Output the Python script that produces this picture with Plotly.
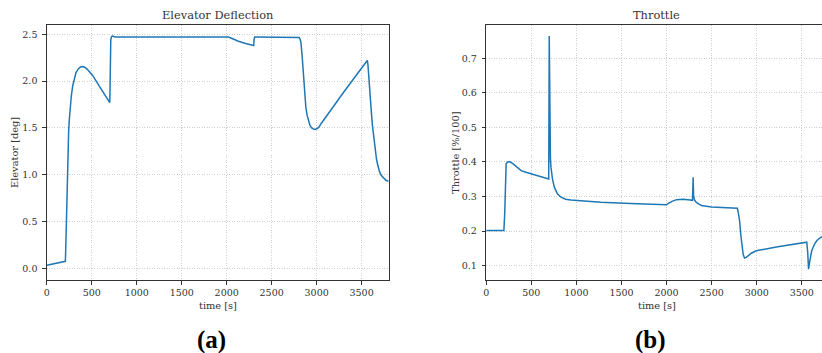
import plotly.graph_objects as go

# Elevator deflection time history
elev_t = [0, 206, 210, 215, 220, 225, 230, 236, 243, 251, 260, 272, 288, 305, 324, 350,
          375, 398, 425, 450, 509, 601, 700, 704, 711, 720, 730, 760, 1000, 1500, 2020,
          2060, 2130, 2200, 2270, 2300, 2305, 2312, 2330, 2795, 2805, 2815, 2824, 2838,
          2850, 2860, 2868, 2880, 2895, 2910, 2925, 2945, 2970, 2990, 3010, 3030, 3053,
          3300, 3558, 3563, 3570, 3580, 3592, 3606, 3620, 3635, 3650, 3665, 3680, 3700,
          3720, 3745, 3770, 3800]
elev_deg = [0.032, 0.075, 0.20, 0.45, 0.72, 0.95, 1.15, 1.33, 1.48, 1.60, 1.72, 1.84, 1.95,
            2.03, 2.09, 2.13, 2.15, 2.155, 2.145, 2.125, 2.06, 1.92, 1.77, 2.00, 2.44,
            2.475, 2.48, 2.47, 2.47, 2.47, 2.47, 2.455, 2.425, 2.405, 2.387, 2.38, 2.45,
            2.47, 2.47, 2.47, 2.465, 2.45, 2.42, 2.28, 2.12, 1.97, 1.85, 1.72, 1.63, 1.57,
            1.53, 1.50, 1.485, 1.485, 1.495, 1.515, 1.55, 1.88, 2.22, 2.22, 2.18, 2.07,
            1.88, 1.70, 1.53, 1.39, 1.27, 1.17, 1.10, 1.03, 0.99, 0.96, 0.94, 0.93]

# Throttle time history
thr_t = [0, 196, 205, 213, 221, 240, 258, 295, 340, 387, 440, 497, 600, 693, 699, 702,
         706, 712, 718, 735, 755, 790, 829, 880, 939, 1271, 1600, 2000, 2020, 2060, 2111,
         2180, 2262, 2288, 2295, 2300, 2310, 2330, 2360, 2387, 2497, 2785, 2795, 2810,
         2825, 2837, 2850, 2865, 2884, 2940, 2995, 3234, 3547, 3555, 3565, 3575, 3590,
         3610, 3640, 3665, 3700, 3724]
thr_val = [0.202, 0.202, 0.25, 0.35, 0.395, 0.400, 0.401, 0.395, 0.385, 0.375, 0.370,
           0.366, 0.359, 0.351, 0.764, 0.62, 0.48, 0.41, 0.385, 0.350, 0.327, 0.308, 0.298,
           0.292, 0.290, 0.2835, 0.280, 0.276, 0.280, 0.286, 0.291, 0.292, 0.290, 0.289,
           0.356, 0.300, 0.290, 0.283, 0.278, 0.274, 0.270, 0.266, 0.255, 0.230, 0.185,
           0.153, 0.132, 0.122, 0.124, 0.136, 0.143, 0.155, 0.167, 0.168, 0.140, 0.090,
           0.115, 0.143, 0.162, 0.172, 0.180, 0.184]

x_ticks = [0, 500, 1000, 1500, 2000, 2500, 3000, 3500]
elev_ticks = [0.0, 0.5, 1.0, 1.5, 2.0, 2.5]
thr_ticks = [0.1, 0.2, 0.3, 0.4, 0.5, 0.6, 0.7]

W, H = 822, 353
LINE = "#1f77b4"
INK = "#333333"
FONT = "DejaVu Serif"

fig = go.Figure()
fig.add_trace(go.Scatter(x=elev_t, y=elev_deg, mode="lines", xaxis="x", yaxis="y",
                         line=dict(color=LINE, width=1.5), showlegend=False))
fig.add_trace(go.Scatter(x=thr_t, y=thr_val, mode="lines", xaxis="x2", yaxis="y2",
                         line=dict(color=LINE, width=1.5), showlegend=False))

ydom = [1 - 280 / H, 1 - 25 / H]
common = dict(showline=True, linecolor=INK, linewidth=1, ticks="outside", ticklen=3.5,
              tickcolor=INK, tickwidth=0.8, showgrid=True, gridcolor="#cfcfcf",
              gridwidth=0.8, griddash="1px,1.5px", zeroline=False,
              tickfont=dict(family=FONT, size=9.5, color=INK))

fig.update_layout(
    width=W, height=H, margin=dict(l=0, r=0, t=0, b=0),
    paper_bgcolor="white", plot_bgcolor="white",
    font=dict(family=FONT, color=INK),
    xaxis=dict(domain=[44 / W, 387 / W], range=[0, 3800], tickvals=x_ticks,
               mirror=True, anchor="y", **common),
    yaxis=dict(domain=ydom, range=[-0.125, 2.599], tickvals=elev_ticks,
               tickformat=".1f", mirror=True, anchor="x", ticklabelstandoff=3, **common),
    xaxis2=dict(domain=[485 / W, 1.0], range=[0, 3724], tickvals=x_ticks,
                mirror=True, anchor="y2", **common),
    yaxis2=dict(domain=ydom, range=[0.0586, 0.796], tickvals=thr_ticks,
                tickformat=".1f", mirror=False, anchor="x2", ticklabelstandoff=3, **common),
)

def note(text, x, y, size, angle=0, bold=False, family=FONT):
    fig.add_annotation(text=f"<b>{text}</b>" if bold else text,
                       x=x / W, y=1 - y / H, xref="paper", yref="paper",
                       xanchor="center", yanchor="middle", showarrow=False,
                       textangle=angle,
                       font=dict(family=family, size=size, color="black" if bold else INK))

note("Elevator Deflection", 215.5, 15, 11.4)
note("Throttle", 656, 15, 11.4)
note("time [s]", 215.5, 305, 9.8)
note("time [s]", 656, 305, 9.8)
note("Elevator [deg]", 11.5, 152.5, 9.8, angle=-90)
note("Throttle [%/100]", 454, 152.5, 9.8, angle=-90)
note("(a)", 209, 340, 25, bold=True, family="Liberation Serif, Times New Roman, serif")
note("(b)", 650, 340, 25, bold=True, family="Liberation Serif, Times New Roman, serif")

fig.write_html("out.html")
